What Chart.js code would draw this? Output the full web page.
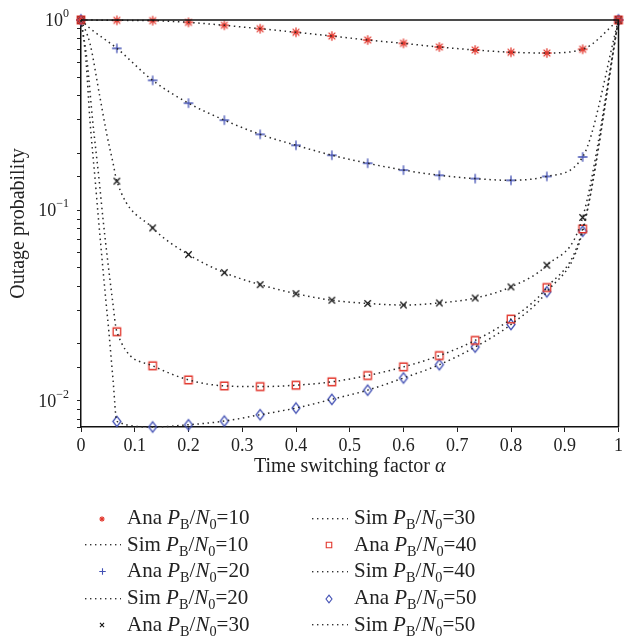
<!DOCTYPE html>
<html lang="en">
  <head>
    <meta charset="UTF-8" />
    <title>Outage probability vs time switching factor</title>
    <script src="https://cdn.jsdelivr.net/npm/chart.js@4.4.0/dist/chart.umd.min.js"></script>
    <style>
      html, body { margin: 0; padding: 0; background: #fff; }
      #wrap { position: relative; width: 626px; height: 638px; }
      #legend { position: absolute; left: 0; top: 0; font-family: "Liberation Serif", serif; font-size: 21px; color: #222; }
      .item { position: absolute; display: flex; align-items: center; height: 27px; white-space: nowrap; }
      .item canvas { display: block; margin-right: 6px; }
      .item sub { font-size: 0.68em; vertical-align: -0.35em; line-height: 0; }
    </style>
  </head>
  <body>
    <div id="wrap">
      <canvas id="chart" width="626" height="638" style="width:626px;height:638px"></canvas>
      <div id="legend"></div>
    </div>
    <script>
      // time switching factor, 16 analysis points
      const alpha = [0, 0.0667, 0.1333, 0.2, 0.2667, 0.3333, 0.4, 0.4667, 0.5333, 0.6, 0.6667, 0.7333, 0.8, 0.8667, 0.9333, 1];

      // analytical outage probability, P_B/N_0 = 10..50
      const ana10 = [1, 0.996, 0.992, 0.972, 0.938, 0.9, 0.862, 0.824, 0.785, 0.754, 0.721, 0.696, 0.677, 0.671, 0.702, 1];
      const ana20 = [1, 0.71, 0.482, 0.366, 0.298, 0.251, 0.22, 0.195, 0.177, 0.163, 0.153, 0.147, 0.144, 0.151, 0.191, 1];
      const ana30 = [1, 0.1426, 0.081, 0.0587, 0.0472, 0.0408, 0.0366, 0.0338, 0.0325, 0.0319, 0.0327, 0.0347, 0.0397, 0.0516, 0.0919, 1];
      const ana40 = [1, 0.0231, 0.0153, 0.0129, 0.012, 0.0119, 0.0121, 0.0126, 0.0136, 0.0151, 0.0173, 0.0208, 0.0269, 0.0394, 0.08, 1];
      const ana50 = [1, 0.00781, 0.0073, 0.0075, 0.00784, 0.00847, 0.00918, 0.0102, 0.0114, 0.0132, 0.0155, 0.0192, 0.0252, 0.0374, 0.0778, 1];

      // extra simulation samples read between alpha = 0 and the first analysis point
      const simHead10 = [];
      const simHead20 = [[0.0166, 0.905]];
      const simHead30 = [[0.0166, 0.754], [0.0351, 0.395], [0.0475, 0.255], [0.0597, 0.177]];
      const simHead40 = [[0.0111, 0.616], [0.0216, 0.298], [0.0338, 0.144], [0.0412, 0.0889], [0.0586, 0.0338]];
      const simHead50 = [[0.0092, 0.616], [0.0166, 0.298], [0.0264, 0.144], [0.0327, 0.0889], [0.0462, 0.0338], [0.0518, 0.0232], [0.0597, 0.0128]];

      const xTicks = [0, 0.1, 0.2, 0.3, 0.4, 0.5, 0.6, 0.7, 0.8, 0.9, 1];
      const yMajor = [0.01, 0.1, 1];

      const RED = "#e2362c";
      const BLUE = "#4250b4";
      const FONT = '"Liberation Serif", serif';

      function makeMarker(shape, s, color, lw) {
        const c = document.createElement("canvas");
        const r = s / 2;
        c.width = Math.ceil(s + 4);
        c.height = shape === "diamond" ? Math.ceil(s * 1.3 + 4) : c.width;
        const g = c.getContext("2d");
        const cx = c.width / 2, cy = c.height / 2;
        g.strokeStyle = color;
        g.lineWidth = lw;
        g.beginPath();
        if (shape === "star") {
          for (let k = 0; k < 4; k++) {
            const a = (k * Math.PI) / 4;
            g.moveTo(cx - r * Math.cos(a), cy - r * Math.sin(a));
            g.lineTo(cx + r * Math.cos(a), cy + r * Math.sin(a));
          }
        } else if (shape === "plus") {
          g.moveTo(cx - r, cy); g.lineTo(cx + r, cy);
          g.moveTo(cx, cy - r); g.lineTo(cx, cy + r);
        } else if (shape === "cross") {
          const d = r * 0.75;
          g.moveTo(cx - d, cy - d); g.lineTo(cx + d, cy + d);
          g.moveTo(cx + d, cy - d); g.lineTo(cx - d, cy + d);
        } else if (shape === "square") {
          g.rect(cx - r, cy - r, s, s);
        } else if (shape === "diamond") {
          g.moveTo(cx, cy - r * 1.3); g.lineTo(cx + r, cy);
          g.lineTo(cx, cy + r * 1.3); g.lineTo(cx - r, cy);
          g.closePath();
        }
        g.stroke();
        return c;
      }

      function anaSet(snr, values, shape, size, color) {
        return {
          label: "Ana P_B/N_0=" + snr,
          kind: "ana", shape: shape, markColor: color,
          data: alpha.map((a, i) => ({ x: a, y: values[i] })),
          showLine: false,
          pointStyle: makeMarker(shape, size, color, 1.3),
          pointRadius: 5,
          clip: false,
          order: 1,
        };
      }

      function simSet(snr, head, values) {
        const pts = [{ x: alpha[0], y: values[0] }]
          .concat(head.map((p) => ({ x: p[0], y: p[1] })))
          .concat(alpha.slice(1).map((a, i) => ({ x: a, y: values[i + 1] })));
        return {
          label: "Sim P_B/N_0=" + snr,
          kind: "sim",
          data: pts,
          borderColor: "#2a2a2a",
          borderWidth: 1.5,
          borderDash: [1.5, 3.6],
          pointRadius: 0,
          cubicInterpolationMode: "monotone",
          clip: false,
          order: 0,
        };
      }

      const datasets = [
        anaSet(10, ana10, "star", 9.5, RED),
        simSet(10, simHead10, ana10),
        anaSet(20, ana20, "plus", 9.5, BLUE),
        simSet(20, simHead20, ana20),
        anaSet(30, ana30, "cross", 8.5, "#111"),
        simSet(30, simHead30, ana30),
        anaSet(40, ana40, "square", 7.5, RED),
        simSet(40, simHead40, ana40),
        anaSet(50, ana50, "diamond", 8, BLUE),
        simSet(50, simHead50, ana50),
      ];

      // legend small icons
      const legendSize = { star: 5.5, plus: 6.5, cross: 5.5, square: 5.5, diamond: 6 };
      function legendIcon(ds) {
        const c = document.createElement("canvas");
        c.width = 38;
        c.height = 20;
        const g = c.getContext("2d");
        if (ds.kind === "sim") {
          g.fillStyle = "#333";
          for (let x = 2; x < 38; x += 5) g.fillRect(x, 10, 1.4, 1.4);
        } else {
          const m = makeMarker(ds.shape, legendSize[ds.shape], ds.markColor, 1.1);
          g.drawImage(m, Math.round(19 - m.width / 2), Math.round(10.5 - m.height / 2));
        }
        return c;
      }

      const htmlLegend = {
        id: "htmlLegend",
        afterUpdate(chart) {
          const box = document.getElementById("legend");
          box.innerHTML = "";
          chart.data.datasets.forEach((ds, i) => {
            const col = Math.floor(i / 5), row = i % 5;
            const item = document.createElement("div");
            item.className = "item";
            item.style.left = (col ? 310 : 83) + "px";
            item.style.top = (504 + row * 26.7).toFixed(1) + "px";
            item.appendChild(legendIcon(ds));
            const txt = document.createElement("span");
            txt.innerHTML = ds.label
              .replace("P_B", "<i>P</i><sub>B</sub>")
              .replace("N_0", "<i>N</i><sub>0</sub>");
            item.appendChild(txt);
            box.appendChild(item);
          });
        },
      };

      // frame on top/right, 10^k labels, x title with italic alpha
      const extras = {
        id: "extras",
        afterDraw(chart) {
          const { ctx, chartArea: a, scales } = chart;
          ctx.save();
          ctx.strokeStyle = "#111";
          ctx.lineWidth = 1.5;
          ctx.beginPath();
          ctx.moveTo(a.left, a.top);
          ctx.lineTo(a.right, a.top);
          ctx.lineTo(a.right, a.bottom);
          ctx.stroke();

          ctx.fillStyle = "#222";
          ctx.textAlign = "left";
          ctx.textBaseline = "alphabetic";
          yMajor.forEach((v) => {
            const py = scales.y.getPixelForValue(v);
            const exp = String(Math.round(Math.log10(v))).replace("-", "\u2212");
            ctx.font = "12px " + FONT;
            const ew = ctx.measureText(exp).width;
            ctx.font = "18px " + FONT;
            const bw = ctx.measureText("10").width;
            const right = a.left - 12;
            ctx.fillText("10", right - ew - bw, py + 6);
            ctx.font = "12px " + FONT;
            ctx.fillText(exp, right - ew, py - 3);
          });

          const t1 = "Time switching factor ";
          ctx.font = "20px " + FONT;
          const w1 = ctx.measureText(t1).width;
          ctx.font = "italic 20px " + FONT;
          const w2 = ctx.measureText("\u03b1").width;
          const x0 = (a.left + a.right) / 2 - (w1 + w2) / 2;
          const by = 472;
          ctx.font = "20px " + FONT;
          ctx.fillText(t1, x0, by);
          ctx.font = "italic 20px " + FONT;
          ctx.fillText("\u03b1", x0 + w1, by);
          ctx.restore();
        },
      };

      Chart.defaults.font.family = FONT;
      Chart.defaults.color = "#222";

      const ctx = document.querySelector("#chart").getContext("2d");
      const myChart = new Chart(ctx, {
        type: "line",
        data: { datasets: datasets },
        options: {
          responsive: false,
          animation: false,
          layout: { padding: { top: 20, right: 4, left: 0, bottom: 0 } },
          plugins: { legend: { display: false }, tooltip: { enabled: false } },
          scales: {
            x: {
              type: "linear",
              min: 0,
              max: 1,
              afterBuildTicks: (s) => {
                s.ticks = xTicks.map((v) => ({ value: v }));
              },
              ticks: {
                autoSkip: false,
                maxRotation: 0,
                padding: 3,
                font: { size: 18 },
                color: "#222",
                callback: (v) => String(Math.round(v * 10) / 10),
              },
              grid: { drawOnChartArea: false, tickLength: 5, color: "#222" },
              border: { color: "#111", width: 1.5 },
              afterFit: (s) => {
                s.height = 638 - 427;
              },
            },
            y: {
              type: "logarithmic",
              min: 0.0073,
              max: 1,
              ticks: { display: false },
              grid: { drawOnChartArea: false, tickLength: 4, color: "#222" },
              border: { color: "#111", width: 1.5 },
              title: { display: true, text: "Outage probability", font: { size: 20 }, padding: { top: 7, bottom: 0 } },
              afterFit: (s) => {
                s.width = 81;
              },
            },
          },
        },
        plugins: [htmlLegend, extras],
      });
    </script>
  </body>
</html>
